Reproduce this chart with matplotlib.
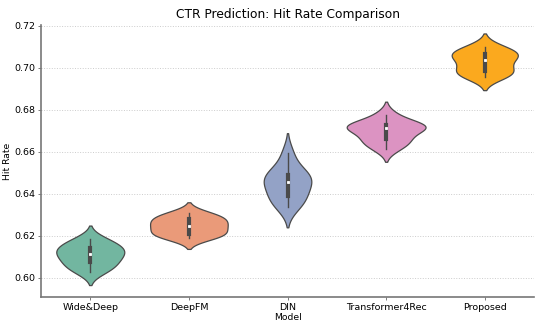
import numpy as np
import pandas as pd
import matplotlib
matplotlib.use("Agg")
import matplotlib.pyplot as plt
import seaborn as sns

models = ["Wide&Deep", "DeepFM", "DIN", "Transformer4Rec", "Proposed"]
wide_deep = [0.6030, 0.6050, 0.6070, 0.6088, 0.6108, 0.6122, 0.6132, 0.6148, 0.6165, 0.6186]
deepfm = [0.6190, 0.6205, 0.6207, 0.6225, 0.6245, 0.6253, 0.6268, 0.6283, 0.6295, 0.6309]
din = [0.6338, 0.6365, 0.6385, 0.6415, 0.6448, 0.6464, 0.6478, 0.6495, 0.6515, 0.6593]
transformer4rec = [0.6615, 0.6645, 0.6655, 0.6680, 0.6712, 0.6720, 0.6724, 0.6727, 0.6730, 0.6778]
proposed = [0.6958, 0.6970, 0.6982, 0.6995, 0.7025, 0.7050, 0.7060, 0.7068, 0.7082, 0.7101]
colors = ["#72b6a0", "#ea9a79", "#93a2c6", "#dc93c2", "#fba91e"]

samples = [wide_deep, deepfm, din, transformer4rec, proposed]
df = pd.DataFrame({
    "Model": np.repeat(models, [len(s) for s in samples]),
    "Hit Rate": np.concatenate(samples),
})

fig, ax = plt.subplots(figsize=(5.5, 3.24), dpi=100)
fig.subplots_adjust(left=0.0745, right=0.971, top=0.923, bottom=0.083)

sns.violinplot(data=df, x="Model", y="Hit Rate", hue="Model", palette=colors,
               saturation=1, legend=False, inner="box", linewidth=0.9,
               density_norm="area", common_norm=True, linecolor="#4a4a4a",
               inner_kws=dict(box_width=3.0, whis_width=1.0, marker="s", markersize=2.0),
               ax=ax)

ax.set_title("CTR Prediction: Hit Rate Comparison", fontsize=8.8, pad=5)
ax.set_xlabel("Model", fontsize=6.7, labelpad=1)
ax.set_ylabel("Hit Rate", fontsize=6.7, labelpad=2)
ax.set_ylim(0.5909, 0.7205)
ax.set_yticks(np.arange(0.60, 0.7201, 0.02))
ax.tick_params(labelsize=6.8, length=2, width=0.6, color="#666666", pad=2)
ax.grid(axis="y", linestyle=":", color="#cccccc", linewidth=0.7)
ax.set_axisbelow(True)
for side in ["top", "right"]:
    ax.spines[side].set_visible(False)
for side in ["left", "bottom"]:
    ax.spines[side].set_color("#777777")
    ax.spines[side].set_linewidth(1.2)

plt.savefig("out.png", dpi=100)
